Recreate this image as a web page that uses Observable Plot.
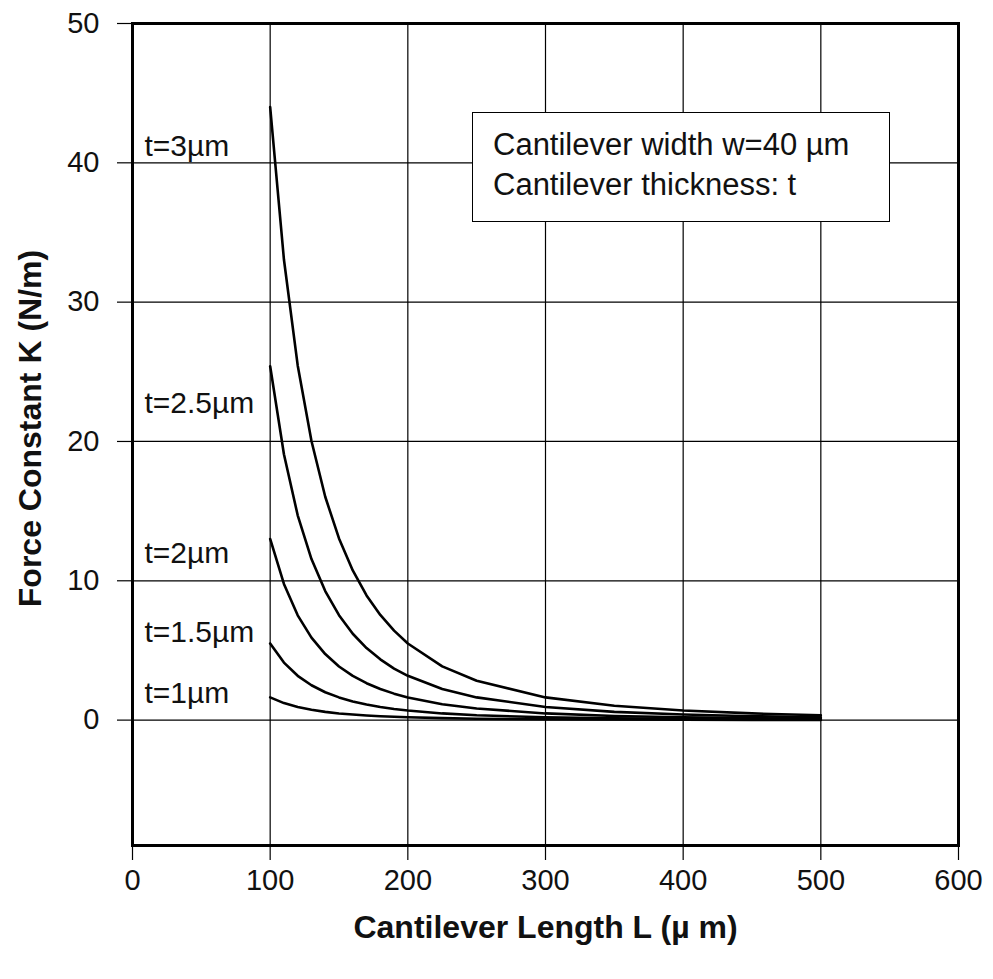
<!DOCTYPE html>
<html>
<head>
<meta charset="utf-8">
<script src="https://cdn.jsdelivr.net/npm/d3@7"></script>
<script src="https://cdn.jsdelivr.net/npm/@observablehq/plot@0.6"></script>
<style>
  html, body { margin: 0; padding: 0; background: #fff; }
  #wrap { position: relative; width: 993px; height: 979px; font-family: "Liberation Sans", Arial, sans-serif; }
  #note { position: absolute; left: 472px; top: 112px; width: 418px; height: 110px; box-sizing: border-box;
          border: 1.5px solid #000; background: #fff; font-size: 31px; line-height: 40px; padding: 12px 0 0 20px; color: #111; white-space: nowrap; }
</style>
</head>
<body>
<div id="wrap"><div id="note">Cantilever width w=40 µm<br>Cantilever thickness: t</div></div>
<script>
// Cantilever length L (µm)
const lengths = [100, 110, 120, 130, 140, 150, 160, 170, 180, 190, 200, 225, 250, 300, 350, 400, 450, 500];
// Force constant K (N/m) for each thickness
const k_t3   = [44.0, 33.06, 25.46, 20.03, 16.03, 13.04, 10.74, 8.95, 7.55, 6.42, 5.50, 3.86, 2.82, 1.63, 1.03, 0.69, 0.48, 0.35];
const k_t2_5 = [25.4, 19.08, 14.70, 11.56, 9.26, 7.53, 6.20, 5.17, 4.36, 3.70, 3.18, 2.23, 1.63, 0.94, 0.59, 0.40, 0.28, 0.20];
const k_t2   = [13.0, 9.77, 7.52, 5.92, 4.74, 3.85, 3.17, 2.65, 2.23, 1.90, 1.63, 1.14, 0.83, 0.48, 0.30, 0.20, 0.14, 0.10];
const k_t1_5 = [5.5, 4.13, 3.18, 2.50, 2.00, 1.63, 1.34, 1.12, 0.94, 0.80, 0.69, 0.48, 0.35, 0.20, 0.13, 0.09, 0.06, 0.04];
const k_t1   = [1.63, 1.22, 0.94, 0.74, 0.59, 0.48, 0.40, 0.33, 0.28, 0.24, 0.20, 0.14, 0.10, 0.06, 0.04, 0.03, 0.02, 0.01];
const seriesNames = ["t=3µm", "t=2.5µm", "t=2µm", "t=1.5µm", "t=1µm"];
const seriesValues = [k_t3, k_t2_5, k_t2, k_t1_5, k_t1];
// where each curve label sits on the K axis (left edge of plot)
const labelK = [41.2, 22.7, 12.0, 6.3, 1.9];
const xTicks = [0, 100, 200, 300, 400, 500, 600];
const yTicks = [0, 10, 20, 30, 40, 50];

const rows = seriesNames.flatMap((name, i) => lengths.map((L, j) => ({series: name, L, K: seriesValues[i][j]})));
const labels = seriesNames.map((name, i) => ({name, K: labelK[i]}));

const font = "Liberation Sans, Arial, sans-serif";
const chart = Plot.plot({
  width: 993,
  height: 979,
  marginLeft: 132,
  marginRight: 35,
  marginTop: 23,
  marginBottom: 134,
  style: {fontFamily: font, fontSize: "29px", color: "#111", background: "white"},
  x: {domain: [0, 600], ticks: xTicks},
  y: {domain: [-9, 50], ticks: yTicks},
  marks: [
    Plot.gridX(xTicks, {stroke: "#000", strokeOpacity: 1, strokeWidth: 1.2}),
    Plot.gridY(yTicks, {stroke: "#000", strokeOpacity: 1, strokeWidth: 1.2}),
    Plot.axisX(xTicks, {tickSize: 15, tickPadding: 9, fontSize: 29, label: null, stroke: "#000", strokeWidth: 1.2}),
    Plot.axisY(yTicks, {tickSize: 15, tickPadding: 18, fontSize: 29, label: null, stroke: "#000", strokeWidth: 1.2}),
    Plot.line(rows, {x: "L", y: "K", z: "series", stroke: "#000", strokeWidth: 2.6, curve: "linear"}),
    Plot.text(labels, {x: 0, y: "K", text: "name", textAnchor: "start", dx: 12, fontSize: 30, fill: "#111"}),
    Plot.frame({stroke: "#000", strokeWidth: 3}),
    Plot.text(["Cantilever Length L (µ m)"], {frameAnchor: "bottom", textAnchor: "middle", dy: 92, fontWeight: "bold", fontSize: 32, fill: "#111"}),
    Plot.text(["Force Constant K (N/m)"], {frameAnchor: "left", textAnchor: "middle", dx: -102, dy: -6, rotate: -90, fontWeight: "bold", fontSize: 32, fill: "#111"})
  ]
});
document.getElementById("wrap").prepend(chart);
chart.style.position = "absolute";
chart.style.left = "0";
chart.style.top = "0";
</script>
</body>
</html>
